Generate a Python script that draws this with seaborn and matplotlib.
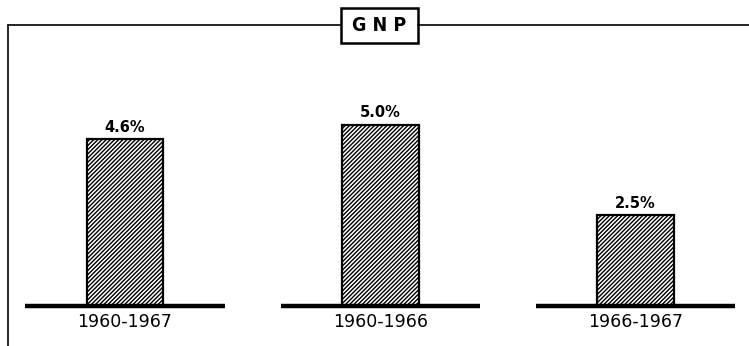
import matplotlib
matplotlib.use("Agg")
import matplotlib.pyplot as plt
from matplotlib.patches import Rectangle
from matplotlib.lines import Line2D
import seaborn as sns
import pandas as pd

periods = ["1960-1967", "1960-1966", "1966-1967"]
growth = [4.6, 5.0, 2.5]
value_labels = ["4.6%", "5.0%", "2.5%"]
title = "GNP"

sns.set_theme(style="white")
plt.rcParams["font.family"] = ["DejaVu Sans"]
plt.rcParams["hatch.linewidth"] = 1.0
plt.rcParams["hatch.color"] = "black"

W, H = 749, 346
fig = plt.figure(figsize=(W / 100, H / 100), dpi=100)
fig.patch.set_facecolor("white")
ax = fig.add_axes([0, 0, 1, 1])

df = pd.DataFrame({"period": periods, "growth": growth})
sns.barplot(data=df, x="period", y="growth", color="white", width=0.3,
            edgecolor="black", linewidth=1.6, ax=ax, saturation=1)
for p in ax.patches:
    p.set_hatch("////////")
    p.set_facecolor("white")
    p.set_edgecolor("black")

unit_x = 255.3
px_y = 36.3
ax.set_xlim(-125 / unit_x, (W - 125) / unit_x)
ax.set_ylim(-(H - 306) / px_y, 306 / px_y)
ax.axis("off")

for i, (v, lab, per) in enumerate(zip(growth, value_labels, periods)):
    ax.plot([i - 0.39, i + 0.39], [0, 0], color="black", lw=3.2,
            solid_capstyle="butt", zorder=5)
    ax.text(i, v + 0.12, lab, ha="center", va="bottom", fontsize=10.5,
            fontweight="bold", color="black")
    ax.text(i, -0.2, per, ha="center", va="top", fontsize=12.5,
            color="black", fontweight="medium")

# Frame
def fx(px):
    return px / W

def fy(py):
    return 1 - py / H

fig.add_artist(Line2D([fx(8), fx(8)], [fy(25), fy(346)], color="black", lw=1.2,
                      transform=fig.transFigure))
fig.add_artist(Line2D([fx(8), fx(341)], [fy(25), fy(25)], color="black", lw=1.2,
                      transform=fig.transFigure))
fig.add_artist(Line2D([fx(418), fx(749)], [fy(25), fy(25)], color="black", lw=1.2,
                      transform=fig.transFigure))
fig.add_artist(Rectangle((fx(341), fy(43)), fx(418) - fx(341), fy(8) - fy(43),
                         fill=False, edgecolor="black", lw=1.8,
                         transform=fig.transFigure))
fig.text(fx(379.5), fy(25.5), "G N P", ha="center", va="center", fontsize=14,
         fontweight="bold", color="black", fontstretch="condensed")

fig.savefig("out.png", dpi=100, facecolor="white")
